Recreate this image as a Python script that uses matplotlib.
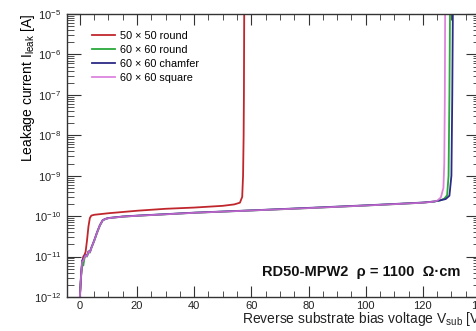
import numpy as np
import matplotlib
matplotlib.use('Agg')
import matplotlib.pyplot as plt
from matplotlib.ticker import MultipleLocator, LogLocator, NullFormatter

plt.rcParams['font.family'] = ['Liberation Sans', 'DejaVu Sans']
plt.rcParams['mathtext.fontset'] = 'custom'
plt.rcParams['mathtext.rm'] = 'Liberation Sans'
plt.rcParams['mathtext.it'] = 'Liberation Sans'

# --- data ---
labels = ['50 \u00d7 50 round', '60 \u00d7 60 round',
          '60 \u00d7 60 chamfer', '60 \u00d7 60 square']
colors = ['#c0272d', '#2aa83c', '#2b2a86', '#d86fd8']

v_red = [0, 0.4, 0.8, 1.2, 1.6, 2.0, 2.5, 3.0, 3.5, 4.0, 5, 10, 20, 30, 40,
         50, 54, 56, 56.8, 57.1, 57.3, 57.4, 57.5]
i_red = [1e-12, 3e-12, 7e-12, 1.0e-11, 1.1e-11, 1.3e-11, 2.5e-11, 5.5e-11,
         9e-11, 1.03e-10, 1.08e-10, 1.18e-10, 1.36e-10, 1.52e-10, 1.63e-10,
         1.8e-10, 1.95e-10, 2.15e-10, 3e-10, 1e-9, 1e-8, 1e-7, 1e-5]

v_low = [0, 0.4, 0.8, 1.2, 1.6, 2.0, 2.5, 3.0, 3.5, 4.0, 5, 6, 7, 8, 9, 10,
         15, 20, 30, 40, 60, 80, 100, 110, 120]
i_green = [1e-12, 3e-12, 7e-12, 6e-12, 9e-12, 1.05e-11, 1.0e-11, 1.3e-11,
           1.25e-11, 1.6e-11, 2.4e-11, 3.8e-11, 5.8e-11, 7.8e-11, 8.5e-11,
           8.9e-11, 9.7e-11, 1.02e-10, 1.11e-10, 1.21e-10, 1.38e-10,
           1.58e-10, 1.83e-10, 1.98e-10, 2.15e-10]
i_blue = [1e-12, 3.5e-12, 8e-12, 8.5e-12, 1.0e-11, 1.1e-11, 1.05e-11, 1.35e-11,
          1.3e-11, 1.65e-11, 2.5e-11, 4e-11, 6e-11, 8e-11, 8.6e-11,
          9e-11, 9.8e-11, 1.03e-10, 1.12e-10, 1.22e-10, 1.39e-10,
          1.6e-10, 1.85e-10, 2.0e-10, 2.17e-10]
i_pink = [1e-12, 3.2e-12, 7.5e-12, 8e-12, 9.5e-12, 1.08e-11, 1.02e-11, 1.32e-11,
          1.28e-11, 1.62e-11, 2.45e-11, 3.9e-11, 5.9e-11, 7.9e-11, 8.5e-11,
          8.9e-11, 9.7e-11, 1.02e-10, 1.11e-10, 1.21e-10, 1.38e-10,
          1.58e-10, 1.83e-10, 1.98e-10, 2.15e-10]

v_end_green = [124, 126, 127.5, 128.5, 129.0, 129.3, 129.5]
i_end_green = [2.3e-10, 2.45e-10, 2.7e-10, 3.3e-10, 1e-9, 1e-7, 1e-5]
v_end_blue = [124, 126, 128, 129.3, 130.0, 130.3, 130.5]
i_end_blue = [2.3e-10, 2.45e-10, 2.65e-10, 3.2e-10, 1e-9, 1e-7, 1e-5]
v_end_pink = [123, 125, 126.3, 127.2, 127.5, 127.7, 127.8]
i_end_pink = [2.25e-10, 2.4e-10, 2.9e-10, 5e-10, 2e-9, 1e-7, 1e-5]

fig = plt.figure(figsize=(4.77, 3.31), dpi=100)
ax = fig.add_axes([67 / 477, 1 - 297 / 331, (480 - 67) / 477, (297 - 14) / 331])

ax.plot(v_red, i_red, color=colors[0], lw=1.3, label=labels[0])
ax.plot(v_low + v_end_green, i_green + i_end_green, color=colors[1], lw=1.3, label=labels[1])
ax.plot(v_low + v_end_blue, i_blue + i_end_blue, color=colors[2], lw=1.3, label=labels[2])
ax.plot(v_low + v_end_pink, i_pink + i_end_pink, color=colors[3], lw=1.3, alpha=0.85, label=labels[3])

ax.set_yscale('log')
ax.set_xlim(-4.5, 140)
ax.set_ylim(1e-12, 1e-5)
ax.xaxis.set_major_locator(MultipleLocator(20))
ax.xaxis.set_minor_locator(MultipleLocator(5))
ax.yaxis.set_major_locator(LogLocator(base=10, numticks=20))
ax.yaxis.set_minor_locator(LogLocator(base=10, subs=np.arange(2, 10), numticks=20))
ax.yaxis.set_minor_formatter(NullFormatter())

ax.tick_params(which='both', direction='in', top=True, right=True,
               labelsize=8, colors='#333333', labelcolor='#222222')
ax.tick_params(axis='y', which='major', length=10, pad=4)
ax.tick_params(axis='y', which='minor', length=5)
ax.tick_params(axis='x', which='major', length=8, pad=3)
ax.tick_params(axis='x', which='minor', length=4)
for s in ax.spines.values():
    s.set_color('#333333')
    s.set_linewidth(1.0)

ax.set_ylabel('Leakage current I$_{\\rm leak}$ [A]', fontsize=10, loc='top')
ax.yaxis.set_label_coords((37 - 67) / 413, 1.0)
fig.text(242 / 477, 1 - 323 / 331, 'Reverse substrate bias voltage V$_{\\rm sub}$ [V]',
         fontsize=10, ha='left', va='baseline', color='#222222')

ax.text(262 / 477, 1 - 276 / 331, 'RD50-MPW2  \u03c1 = 1100  \u03a9\u00b7cm', transform=fig.transFigure,
        fontsize=10.5, fontweight='bold', ha='left', va='baseline', color='#111111')

leg = ax.legend(loc='upper left', bbox_to_anchor=((92 - 67) / 413, 1 - (31 - 14) / 283),
                frameon=False, fontsize=7.8, handlelength=2.1, handletextpad=0.45,
                labelspacing=0.36, borderaxespad=0, borderpad=0)

fig.savefig('out.png', dpi=100)
